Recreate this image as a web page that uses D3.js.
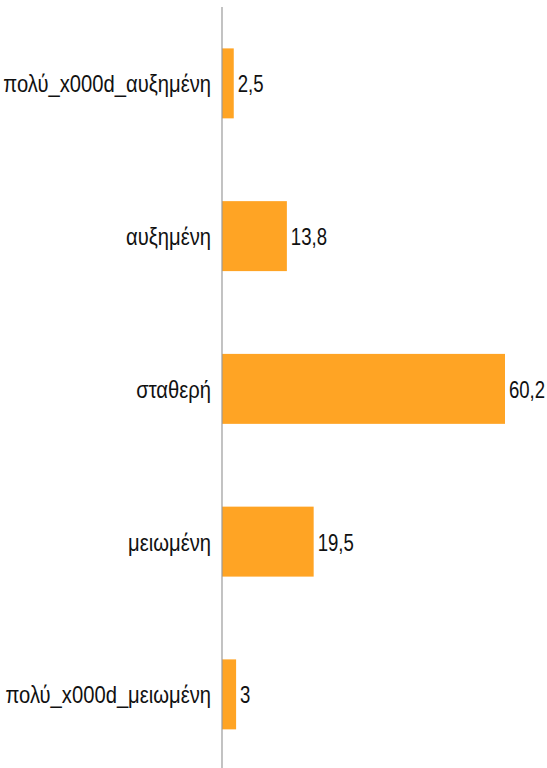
<!DOCTYPE html>
<html><head><meta charset="utf-8">
<script src="https://cdn.jsdelivr.net/npm/d3@7"></script>
<style>body{margin:0;background:#fff}svg{display:block}</style>
</head><body>
<svg id="c" width="547" height="768"></svg>
<script>
const categories = ["πολύ_x000d_αυξημένη","αυξημένη","σταθερή","μειωμένη","πολύ_x000d_μειωμένη"];
const values = [2.5, 13.8, 60.2, 19.5, 3];

const svg = d3.select("#c");
const mLeft = 222, mTop = 7;
const x = d3.scaleLinear().domain([0, 60.2]).range([mLeft, 505]);
const y = d3.scaleBand().domain(categories).range([mTop, mTop + 5*152.75]).paddingInner(0.542).paddingOuter(0.271);
const font = "'Liberation Sans', Arial, sans-serif";
const fs = 23.5;
const fmt = v => String(v).replace(".", ",");
// horizontally condense a text around its x anchor
function condense(sel, sx){
  sel.each(function(){
    const t = d3.select(this);
    const X = +t.attr("x") || 0;
    t.attr("transform", `translate(${X*(1-sx)},0) scale(${sx},1)`);
  });
}

svg.selectAll("rect.bar").data(values).join("rect").attr("class","bar")
  .attr("x", x(0)).attr("y", (d,i)=>y(categories[i]))
  .attr("width", d=>x(d)-x(0)).attr("height", y.bandwidth())
  .attr("fill", "#ffa424");

const yAxis = d3.axisLeft(y).tickSize(0).tickPadding(11);
const g = svg.append("g").attr("transform", `translate(${mLeft},0)`).call(yAxis);
g.select(".domain").attr("stroke","#9a9a9a").attr("stroke-width",1.2).attr("d", `M0,${mTop}V800`);
g.selectAll(".tick text").attr("font-family", font).attr("font-size", fs).attr("fill","#111").attr("dy","0.38em").call(condense, 0.86);

svg.selectAll("text.val").data(values).join("text").attr("class","val")
  .attr("x", d=>x(d)+4).attr("y", (d,i)=>y(categories[i]) + y.bandwidth()/2)
  .attr("dy","0.38em")
  .attr("font-family", font).attr("font-size", fs).attr("fill","#111")
  .text(fmt).call(condense, 0.79);
</script>
</body></html>
